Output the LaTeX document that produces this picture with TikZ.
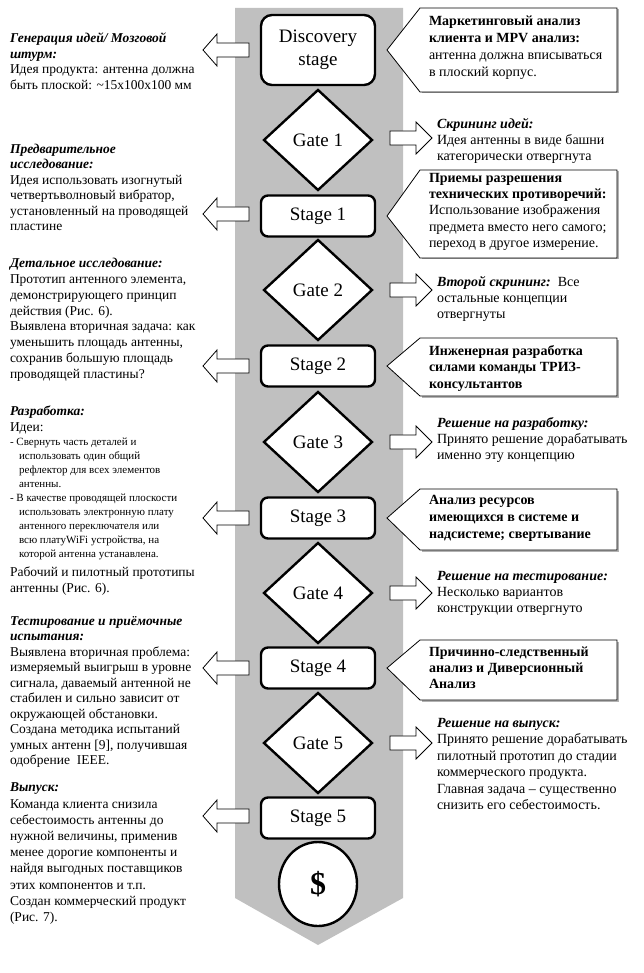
\documentclass[tikz,border=0pt]{standalone}
\usepackage{fontspec}
\setmainfont{Liberation Serif}
\usetikzlibrary{shapes.geometric}
\definecolor{bandgray}{RGB}{192,192,192}
\newcommand{\hd}[1]{\textbf{\textit{#1}}}
\newcommand{\LArrow}[2]{\draw[blockarrow] (249,{#2-7}) -- (217,{#2-7}) -- (217,{#2-16}) -- (203,#2) -- (217,{#2+16}) -- (217,{#2+7}) -- (249,{#2+7}) -- cycle; \coordinate (#1) at (203,#2);}
\newcommand{\RArrow}[2]{\draw[blockarrow] (390,{#2-7}) -- (416,{#2-7}) -- (416,{#2-16}) -- (432,#2) -- (416,{#2+16}) -- (416,{#2+7}) -- (390,{#2+7}) -- cycle; \coordinate (#1) at (432,#2);}
\newcommand{\Callout}[4]{\fill[black!30] (421.5,{#2+1.5}) -- (618.5,{#2+1.5}) -- (618.5,{#3+1.5}) -- (421.5,{#3+1.5}) -- cycle;
\draw[calloutline] (420,#2) -- (617,#2) -- (617,#3) -- (420,#3) -- (387,#4) -- cycle; \coordinate (#1) at (387,#4);}
\begin{document}
\begin{tikzpicture}[x=1pt,y=-1pt,
  every node/.style={inner sep=0pt, outer sep=0pt},
  txt/.style={anchor=north west, align=left, font=\fontsize{13.5}{15.5}\selectfont},
  rtxt/.style={anchor=north west, align=left, font=\fontsize{14}{16}\selectfont},
  small/.style={anchor=north west, align=left, font=\fontsize{11}{14}\selectfont},
  stagebox/.style={draw, line width=2.4pt, rounded corners=7pt, fill=white, minimum width=114pt, minimum height=41pt, font=\fontsize{19}{21}\selectfont},
  discbox/.style={stagebox, rounded corners=11pt, minimum height=70pt, align=center, font=\fontsize{19}{23}\selectfont},
  gatebox/.style={draw, diamond, line width=2.4pt, fill=white, minimum width=108pt, minimum height=100pt, font=\fontsize{19}{21}\selectfont},
  endbox/.style={draw, ellipse, line width=2.4pt, fill=white, minimum width=78pt, minimum height=84pt, font=\bfseries\fontsize{32}{34}\selectfont},
  blockarrow/.style={draw, fill=white, line width=0.8pt, line join=miter},
  calloutline/.style={draw, fill=white, line width=0.8pt}
]
\useasboundingbox (0,0) rectangle (644,973);
% band
\fill[bandgray] (235,8) -- (403,8) -- (403,898) -- (318,945) -- (235,898) -- cycle;

% central nodes
\node[discbox] (d) at (318,50) {Discovery\\stage};
\node[gatebox] (g1) at (318,140) {Gate 1};
\node[stagebox] (s1) at (318,216) {Stage 1};
\node[gatebox] (g2) at (318,290) {Gate 2};
\node[stagebox] (s2) at (318,366) {Stage 2};
\node[gatebox] (g3) at (318,442) {Gate 3};
\node[stagebox] (s3) at (318,518) {Stage 3};
\node[gatebox] (g4) at (318,593) {Gate 4};
\node[stagebox] (s4) at (318,668) {Stage 4};
\node[gatebox] (g5) at (318,743) {Gate 5};
\node[stagebox] (s5) at (318,818) {Stage 5};
\node[endbox] (e) at (318,884) {\$};

% left arrows
\LArrow{la0}{50}
\LArrow{la1}{214}
\LArrow{la2}{366}
\LArrow{la3}{518}
\LArrow{la4}{668}
\LArrow{la5}{816}
% right arrows
\RArrow{ra1}{138}
\RArrow{ra2}{290}
\RArrow{ra3}{442}
\RArrow{ra4}{593}
\RArrow{ra5}{743}
% callouts
\Callout{c0}{8}{92}{50}
\Callout{c1}{170}{258}{216}
\Callout{c2}{338}{396}{366}
\Callout{c3}{489}{550}{518}
\Callout{c4}{640}{700}{668}

% left texts
\node[txt] (l1) at (10,33) {\hd{Генерация идей/ Мозговой}\\\hd{штурм:}\\Идея продукта: антенна должна\\быть плоской: \textasciitilde15x100x100 мм};
\node[txt] (l2) at (10,144) {\hd{Предварительное}\\\hd{исследование:}\\Идея использовать изогнутый\\четвертьволновый вибратор,\\установленный на проводящей\\пластине};
\node[txt, font=\fontsize{13.5}{15.9}\selectfont] (l3) at (10,258) {\hd{Детальное исследование:}\\Прототип антенного элемента,\\демонстрирующего принцип\\действия (Рис. 6).\\Выявлена вторичная задача: как\\уменьшить площадь антенны,\\сохранив большую площадь\\проводящей пластины?};
\node[txt] (l4) at (10,406) {\hd{Разработка:}\\Идеи:};
\node[small] (l4b) at (10,438) {- Свернуть часть деталей и\\\hspace*{9pt}использовать один общий\\\hspace*{9pt}рефлектор для всех элементов\\\hspace*{9pt}антенны.\\- В качестве проводящей плоскости\\\hspace*{9pt}использовать электронную плату\\\hspace*{9pt}антенного переключателя или\\\hspace*{9pt}всю платуWiFi устройства, на\\\hspace*{9pt}которой антенна устанавлена.};
\node[txt] (l4c) at (10,567) {Рабочий и пилотный прототипы\\антенны (Рис. 6).};
\node[txt] (l5) at (10,616) {\hd{Тестирование и приёмочные}\\\hd{испытания:}\\Выявлена вторичная проблема:\\измеряемый выигрыш в уровне\\сигнала, даваемый антенной не\\стабилен и сильно зависит от\\окружающей обстановки.\\Создана методика испытаний\\умных антенн [9], получившая\\одобрение\ \ IEEE.};
\node[txt, font=\fontsize{13.5}{16.2}\selectfont] (l6) at (10,783) {\hd{Выпуск:}\\Команда клиента снизила\\себестоимость антенны до\\нужной величины, применив\\менее дорогие компоненты и\\найдя выгодных поставщиков\\этих компонентов и т.п.\\Создан коммерческий продукт\\(Рис. 7).};

% right gate texts
\node[rtxt] (r1) at (437,118) {\hd{Скрининг идей:}\\Идея антенны в виде башни\\категорически отвергнута};
\node[rtxt] (r2) at (437,276) {\hd{Второй скрининг:}\ \ Все\\остальные концепции\\отвергнуты};
\node[rtxt] (r3) at (437,417) {\hd{Решение на разработку:}\\Принято решение дорабатывать\\именно эту концепцию};
\node[rtxt] (r4) at (437,571) {\hd{Решение на тестирование:}\\Несколько вариантов\\конструкции отвергнуто};
\node[rtxt, font=\fontsize{14}{16.5}\selectfont] (r5) at (437,718) {\hd{Решение на выпуск:}\\Принято решение дорабатывать\\пилотный прототип до стадии\\коммерческого продукта.\\Главная задача – существенно\\снизить его себестоимость.};

% callout texts
\node[rtxt, font=\fontsize{14}{17}\selectfont] (t0) at (429,16) {\textbf{Маркетинговый анализ}\\\textbf{клиента и MPV анализ:}\\антенна должна вписываться\\в плоский корпус.};
\node[rtxt, font=\fontsize{14}{16.3}\selectfont] (t1) at (429,173) {\textbf{Приемы разрешения}\\\textbf{технических противоречий:}\\Использование изображения\\предмета вместо него самого;\\переход в другое измерение.};
\node[rtxt, font=\fontsize{14}{16.5}\selectfont] (t2) at (429,345) {\textbf{Инженерная разработка}\\\textbf{силами команды ТРИЗ-}\\\textbf{консультантов}};
\node[rtxt, font=\fontsize{14}{17}\selectfont] (t3) at (429,495) {\textbf{Анализ ресурсов}\\\textbf{имеющихся в системе и}\\\textbf{надсистеме; свертывание}};
\node[rtxt] (t4) at (429,647) {\textbf{Причинно-следственный}\\\textbf{анализ и Диверсионный}\\\textbf{Анализ}};
\end{tikzpicture}
\end{document}
